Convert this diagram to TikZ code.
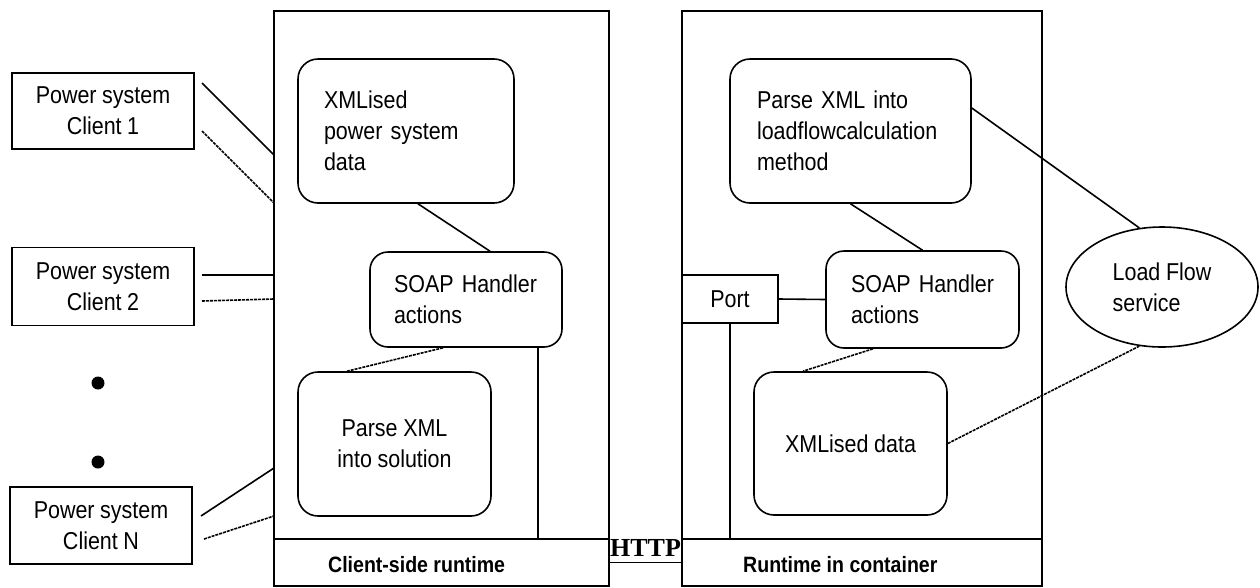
\documentclass[tikz,border=0pt]{standalone}
\usepackage{fontspec}
\setmainfont{Liberation Sans}[FakeStretch=0.88]
\newfontfamily\httpfont{Liberation Serif}
\usetikzlibrary{shapes.geometric}
\newcommand\mywordsp{\spaceskip=5.6pt\relax\xspaceskip=5.6pt\relax}
\newcommand\myboldsp{\spaceskip=5.4pt\relax\xspaceskip=5.4pt\relax}
\begin{document}
\begin{tikzpicture}[x=1pt,y=-1pt,
  every node/.style={font=\fontsize{24.4}{31}\selectfont\mywordsp},
  frame/.style={draw,line width=1.7pt,inner sep=0pt},
  box/.style={draw,line width=1.6pt,inner sep=0pt,align=center},
  rbox/.style={draw,line width=1.6pt,rounded corners=20pt,inner sep=0pt},
  conn/.style={line width=1.6pt},
  dconn/.style={line width=1.6pt,dash pattern=on 3pt off 1pt},
  barlabel/.style={font=\fontsize{22.2}{26}\selectfont\bfseries\myboldsp,anchor=base west,inner sep=0pt}
]
\useasboundingbox (0,0) rectangle (1260,587);
% containers
\node[frame,minimum width=335pt,minimum height=528pt] (cl) at (441.5,275) {};
\node[frame,minimum width=335pt,minimum height=47pt] (cbar) at (441.5,562.5) {};
\node[frame,minimum width=360pt,minimum height=528pt] (cr) at (862,275) {};
\node[frame,minimum width=360pt,minimum height=47pt] (rbar) at (862,562.5) {};
\node[barlabel] (cbl) at (328,572) {Client-side runtime};
\node[barlabel] (rbl) at (743,572) {Runtime in container};
\draw[conn] (cbar.east) -- (rbar.west);
\node[font=\fontsize{26}{28}\httpfont\bfseries,anchor=base,inner sep=0pt] (http) at (645.5,556) {HTTP};
% clients
\node[box,minimum width=182pt,minimum height=76pt] (c1) at (103,111) {Power system\\Client 1};
\node[box,minimum width=182pt,minimum height=78pt] (c2) at (103,286.5) {Power system\\Client 2};
\node[box,minimum width=182pt,minimum height=77pt] (cn) at (101,525.5) {Power system\\Client N};
\node[circle,fill,minimum size=13pt,inner sep=0pt] (dot1) at (98,383) {};
\node[circle,fill,minimum size=13pt,inner sep=0pt] (dot2) at (98,462) {};
% client connectors
\coordinate (c1s) at (202,83);  \coordinate (c1se) at (274,155);
\coordinate (c1d) at (202,131); \coordinate (c1de) at (274,203);
\coordinate (c2s) at (202,275); \coordinate (c2se) at (274,275);
\coordinate (c2d) at (202,301); \coordinate (c2de) at (274,299);
\coordinate (cns) at (201,516); \coordinate (cnse) at (274,468);
\coordinate (cnd) at (204,539); \coordinate (cnde) at (274,516);
\draw[conn] (c1s) -- (c1se);
\draw[dconn] (c1d) -- (c1de);
\draw[conn] (c2s) -- (c2se);
\draw[dconn] (c2d) -- (c2de);
\draw[conn] (cns) -- (cnse);
\draw[dconn] (cnd) -- (cnde);
% left container content
\node[rbox,minimum width=216pt,minimum height=144pt,inner xsep=26pt,text width=164pt,align=left] (xp) at (406,131) {XMLised\\power system\\data};
\node[rbox,rounded corners=18pt,minimum width=192pt,minimum height=95pt,inner xsep=24pt,text width=144pt,align=left] (sl) at (466,299.5) {SOAP Handler\\actions};
\node[rbox,minimum width=193pt,minimum height=144pt,align=center] (px) at (394.5,444) {Parse XML\\into solution};
\draw[conn] ([xshift=12pt]xp.south) -- ([xshift=24pt]sl.north);
\draw[dconn] ([xshift=-23pt]sl.south) -- ([xshift=-47.5pt]px.north);
\draw[conn] ([xshift=72pt]sl.south) coordinate (slv) -- (slv |- cbar.north);
% right container content
\node[rbox,minimum width=241pt,minimum height=144pt,inner xsep=27pt,text width=187pt,align=left] (lf) at (850.5,131) {Parse XML into\\loadflowcalculation\\method};
\node[rbox,rounded corners=18pt,minimum width=193pt,minimum height=97pt,inner xsep=25pt,text width=143pt,align=left] (sr) at (922.5,299.5) {SOAP Handler\\actions};
\node[box,minimum width=96pt,minimum height=48pt] (port) at (730,299) {Port};
\node[rbox,minimum width=193pt,minimum height=143pt] (xd) at (850.5,443.5) {XMLised data};
\draw[conn] (lf.south) -- (sr.north);
\draw[conn] (port.east) -- (sr.west);
\draw[conn] (port.south) -- (port.south |- rbar.north);
\draw[dconn] ([xshift=-49.5pt]sr.south) -- ([xshift=-47.5pt]xd.north);
% load flow service
\node[ellipse,draw,line width=1.6pt,minimum width=192pt,minimum height=120pt,inner sep=0pt,align=left] (lfs) at (1162,287) {Load Flow\\service};
\draw[conn] ([yshift=23pt]lf.east) -- (lfs.111);
\draw[dconn] (xd.east) -- (lfs.249);
\end{tikzpicture}
\end{document}
